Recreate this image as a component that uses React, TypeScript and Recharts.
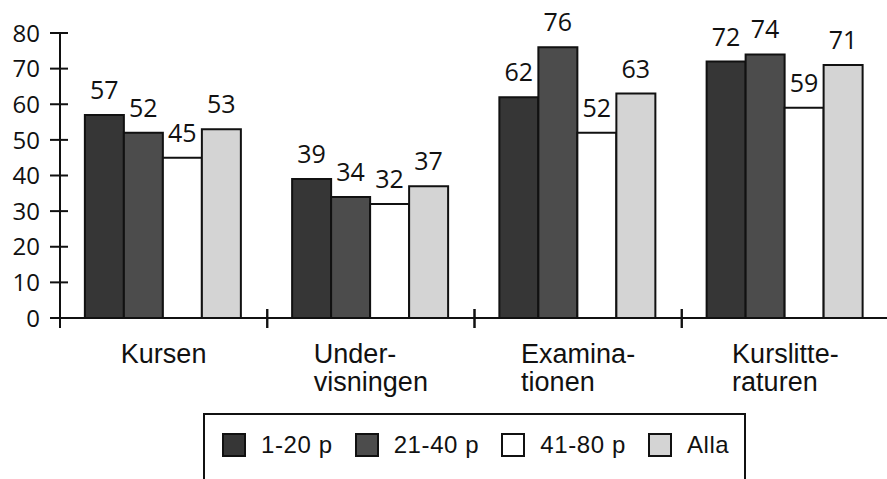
import React from "react";
import {
  Bar,
  BarChart,
  LabelList,
  Legend,
  XAxis,
  YAxis,
} from "recharts";

// Kategorier (radbrytning med \n) och värden per grupp
const categories = ["Kursen", "Under-\nvisningen", "Examina-\ntionen", "Kurslitte-\nraturen"];
const p1to20 = [57, 39, 62, 72];
const p21to40 = [52, 34, 76, 74];
const p41to80 = [45, 32, 52, 59];
const alla = [53, 37, 63, 71];
const yTicks = [0, 10, 20, 30, 40, 50, 60, 70, 80];

const series = [
  { key: "a", name: "1-20 p", values: p1to20, fill: "#363636" },
  { key: "b", name: "21-40 p", values: p21to40, fill: "#4c4c4c" },
  { key: "c", name: "41-80 p", values: p41to80, fill: "#ffffff" },
  { key: "d", name: "Alla", values: alla, fill: "#d4d4d4" },
];

const data = categories.map((cat, i) => {
  const row: Record<string, string | number> = { cat };
  series.forEach((s) => (row[s.key] = s.values[i]));
  return row;
});

const INK = "#111";
const NUM_FONT = "'Open Sans', 'DejaVu Sans', sans-serif";
const CAT_FONT = "'Liberation Sans', Arial, sans-serif";

let ctx: CanvasRenderingContext2D | null = null;
function textWidth(s: string, font: string) {
  if (!ctx) ctx = document.createElement("canvas").getContext("2d");
  if (!ctx) return s.length * 13;
  ctx.font = font;
  return ctx.measureText(s).width;
}

function YTick(props: any) {
  const { x, y, payload } = props;
  return (
    <g>
      <line x1={x - 10} x2={x + 8} y1={y} y2={y} stroke={INK} strokeWidth={2} />
      <text
        x={x - 20}
        y={y}
        dy="0.36em"
        textAnchor="end"
        fontFamily={NUM_FONT}
        fontSize={24}
        fill={INK}
      >
        {payload.value}
      </text>
    </g>
  );
}

// kategorietikett + skiljestreck vid bandets kanter
function CatTick(props: any) {
  const { x, y, payload } = props;
  const half = payload.offset ?? 0;
  const lines = String(payload.value).split("\n");
  const font = `27px ${CAT_FONT}`;
  const w = Math.max(...lines.map((l) => textWidth(l, font)));
  return (
    <g>
      <line x1={x - half} x2={x - half} y1={y - 9} y2={y + 10} stroke={INK} strokeWidth={2} />
      <line x1={x + half} x2={x + half} y1={y - 9} y2={y + 10} stroke={INK} strokeWidth={2} />
      {lines.map((l, i) => (
        <text
          key={i}
          x={x - w / 2}
          y={y + 45 + i * 28}
          fontFamily={CAT_FONT}
          fontSize={27}
          fill={INK}
        >
          {l}
        </text>
      ))}
    </g>
  );
}

function LegendBox() {
  return (
    <div
      style={{
        boxSizing: "border-box",
        width: 543,
        height: 100,
        border: `2px solid ${INK}`,
        display: "flex",
        flexWrap: "nowrap",
        alignItems: "flex-start",
        paddingTop: 16,
        paddingLeft: 17,
        fontFamily: CAT_FONT,
        fontSize: 24,
        letterSpacing: 0.6,
        lineHeight: "28px",
        whiteSpace: "nowrap",
        color: INK,
      }}
    >
      {series.map((s) => (
        <div
          key={s.key}
          style={{ display: "flex", alignItems: "center", marginRight: 22, flexShrink: 0 }}
        >
          <span
            style={{
              display: "inline-block",
              flexShrink: 0,
              width: 20,
              height: 20,
              background: s.fill,
              border: `2px solid ${INK}`,
              marginRight: 15,
            }}
          />
          <span>{s.name}</span>
        </div>
      ))}
    </div>
  );
}

export default function App() {
  return (
    <div
      style={{
        position: "absolute",
        left: 0,
        top: 0,
        width: 887,
        height: 479,
        overflow: "hidden",
        background: "#fff",
      }}
    >
      <BarChart
        width={892}
        height={479}
        data={data}
        margin={{ top: 33, right: 3, left: 0, bottom: 81 }}
        barCategoryGap="12%"
        barGap={0}
      >
        <XAxis
          dataKey="cat"
          height={80}
          axisLine={{ stroke: INK, strokeWidth: 2 }}
          tickLine={false}
          tickSize={0}
          tickMargin={0}
          tick={<CatTick />}
          interval={0}
        />
        <YAxis
          width={60}
          domain={[0, 80]}
          ticks={yTicks}
          interval={0}
          axisLine={{ stroke: INK, strokeWidth: 2 }}
          tickLine={false}
          tickSize={0}
          tickMargin={0}
          tick={<YTick />}
        />
        <Legend
          layout="horizontal"
          verticalAlign="middle"
          align="center"
          wrapperStyle={{ left: 203, top: 413, width: 543, height: 100 }}
          content={() => <LegendBox />}
        />
        {series.map((s) => (
          <Bar
            key={s.key}
            dataKey={s.key}
            name={s.name}
            fill={s.fill}
            stroke={INK}
            strokeWidth={2}
            isAnimationActive={false}
          >
            <LabelList
              dataKey={s.key}
              position="top"
              offset={16}
              fontFamily={NUM_FONT}
              fontSize={25}
              fill={INK}
            />
          </Bar>
        ))}
      </BarChart>
    </div>
  );
}
